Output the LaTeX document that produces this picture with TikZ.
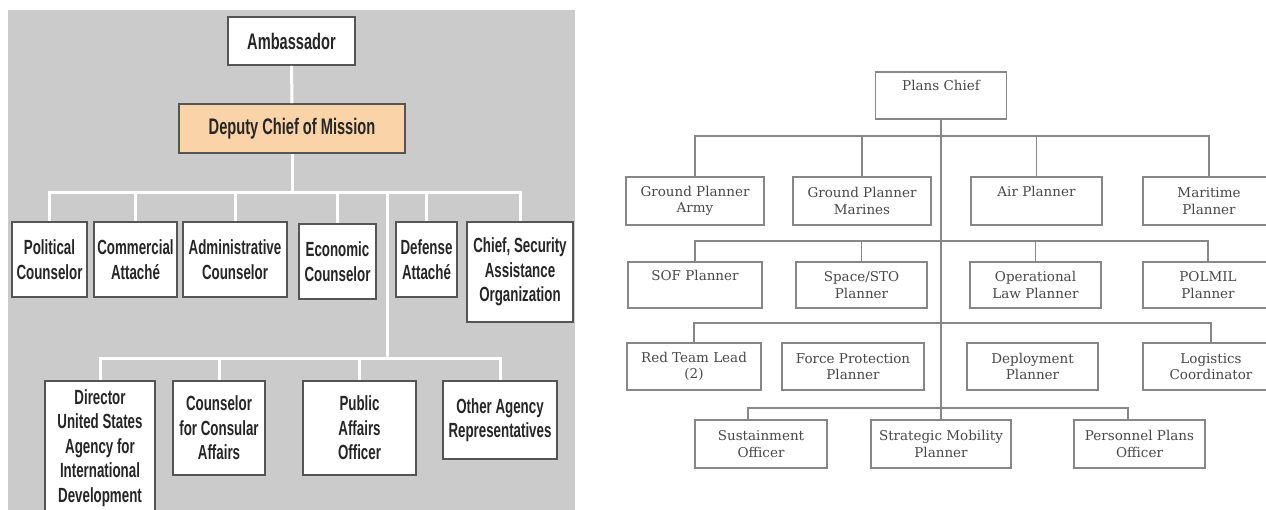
\documentclass[tikz,border=0pt]{standalone}
\usepackage{fontspec}
\newfontfamily\narrowsans[FakeStretch=0.65]{Liberation Sans}
\newfontfamily\planserif{DejaVu Serif}
\definecolor{panelgray}{RGB}{203,203,203}
\definecolor{deputyfill}{RGB}{250,211,168}
\definecolor{boxedge}{RGB}{85,85,85}
\definecolor{planline}{RGB}{135,135,135}
\definecolor{plantext}{RGB}{72,72,72}

\begin{document}
\begin{tikzpicture}[x=1pt,y=-1pt,
    ebox/.style={draw=boxedge, line width=1.6pt, fill=white, align=center, inner sep=0pt, text=black!85,
      font=\narrowsans\bfseries\fontsize{20.5}{24.5}\selectfont},
    etop/.style={ebox, font=\narrowsans\bfseries\fontsize{22.5}{26}\selectfont},
    wline/.style={draw=white, line width=3pt},
    pbox/.style={draw=planline, line width=1.3pt, fill=white, align=center, inner sep=0pt, text=plantext,
      font=\planserif\fontsize{13.5}{16.5}\selectfont},
    oneline/.style={text height=10pt, text depth=19.5pt},
    gline/.style={draw=planline, line width=1.3pt}]
    \useasboundingbox (0,0) rectangle (1266,509);
    \fill[panelgray] (8,10) rectangle (575,515);

    \node[etop, minimum width=127, minimum height=48] (amb) at (291.5,41) {Ambassador};
    \node[etop, fill=deputyfill, minimum width=226, minimum height=49] (dcm) at (292,128.5) {Deputy Chief of Mission};

    \node[ebox, minimum width=75, minimum height=75] (pol) at (49.5,259.5) {Political\\Counselor};
    \node[ebox, minimum width=83, minimum height=75] (com) at (135.5,259.5) {Commercial\\Attach\'e};
    \node[ebox, minimum width=104, minimum height=75] (adm) at (235,259.5) {Administrative\\Counselor};
    \node[ebox, minimum width=77, minimum height=75] (eco) at (337.5,261.5) {Economic\\Counselor};
    \node[ebox, minimum width=61, minimum height=75] (def) at (426.5,259.5) {Defense\\Attach\'e};
    \node[ebox, minimum width=106, minimum height=100] (csa) at (520,272) {Chief, Security\\Assistance\\Organization};

    \node[ebox, minimum width=110, minimum height=134] (dir) at (100,448) {Director\\United States\\Agency for\\International\\Development};
    \node[ebox, minimum width=92, minimum height=94] (cca) at (219,428) {Counselor\\for Consular\\Affairs};
    \node[ebox, minimum width=113, minimum height=94] (pao) at (359.5,428) {Public\\Affairs\\Officer};
    \node[ebox, minimum width=114, minimum height=78] (oar) at (500,420) {Other Agency\\Representatives};

    \coordinate (ja) at (292,192);
    \coordinate (jb) at (387,358);
    \draw[wline] (amb) -- (dcm);
    \draw[wline] (dcm) -- (ja);
    \foreach \n in {pol,com,adm,eco,def,csa}
        \draw[wline] (ja) -| (\n.north);
    \draw[wline] (ja -| jb) -- (jb);
    \foreach \n in {dir,cca,pao,oar}
        \draw[wline] (jb) -| (\n.north);

    \node[pbox, oneline, minimum width=131, minimum height=47] (chief) at (941,95.5) {Plans Chief};

    \node[pbox, minimum width=138, minimum height=48] (gpa) at (695,201) {Ground Planner\\Army};
    \node[pbox, minimum width=138, minimum height=48] (gpm) at (862,201) {Ground Planner\\Marines};
    \node[pbox, oneline, minimum width=131, minimum height=48] (air) at (1036.5,201) {Air Planner};
    \node[pbox, minimum width=132, minimum height=48] (mar) at (1209,201) {Maritime\\Planner};

    \node[pbox, oneline, minimum width=134, minimum height=46] (sof) at (695,285) {SOF Planner};
    \node[pbox, minimum width=131, minimum height=46] (sto) at (861.5,285) {Space/STO\\Planner};
    \node[pbox, minimum width=131, minimum height=46] (olp) at (1035.5,285) {Operational\\Law Planner};
    \node[pbox, minimum width=130, minimum height=46] (pmp) at (1208,285) {POLMIL\\Planner};

    \node[pbox, minimum width=134, minimum height=47] (rtl) at (694,366.5) {Red Team Lead\\(2)};
    \node[pbox, minimum width=142, minimum height=47] (fpp) at (853,366.5) {Force Protection\\Planner};
    \node[pbox, minimum width=131, minimum height=47] (dpl) at (1032.5,366.5) {Deployment\\Planner};
    \node[pbox, minimum width=136, minimum height=47] (lgc) at (1211,366.5) {Logistics\\Coordinator};

    \node[pbox, minimum width=132, minimum height=48] (sus) at (761,444) {Sustainment\\Officer};
    \node[pbox, minimum width=140, minimum height=48] (smp) at (941,444) {Strategic Mobility\\Planner};
    \node[pbox, minimum width=131, minimum height=48] (ppo) at (1139.5,444) {Personnel Plans\\Officer};

    \coordinate (ra) at (941,136);
    \coordinate (rb) at (941,241);
    \coordinate (rc) at (941,323);
    \coordinate (rd) at (941,408);
    \draw[gline] (chief) -- (smp);
    \foreach \n in {gpa,gpm,air,mar}
        \draw[gline] (ra) -| (\n.north);
    \foreach \n in {sof,sto,olp,pmp}
        \draw[gline] (rb) -| (\n.north);
    \foreach \n in {rtl,lgc}
        \draw[gline] (rc) -| (\n.north);
    \draw[gline] (rd) -| ([xshift=-13pt]sus.north);
    \draw[gline] (rd) -| ([xshift=-11.5pt]ppo.north);
\end{tikzpicture}
\end{document}
